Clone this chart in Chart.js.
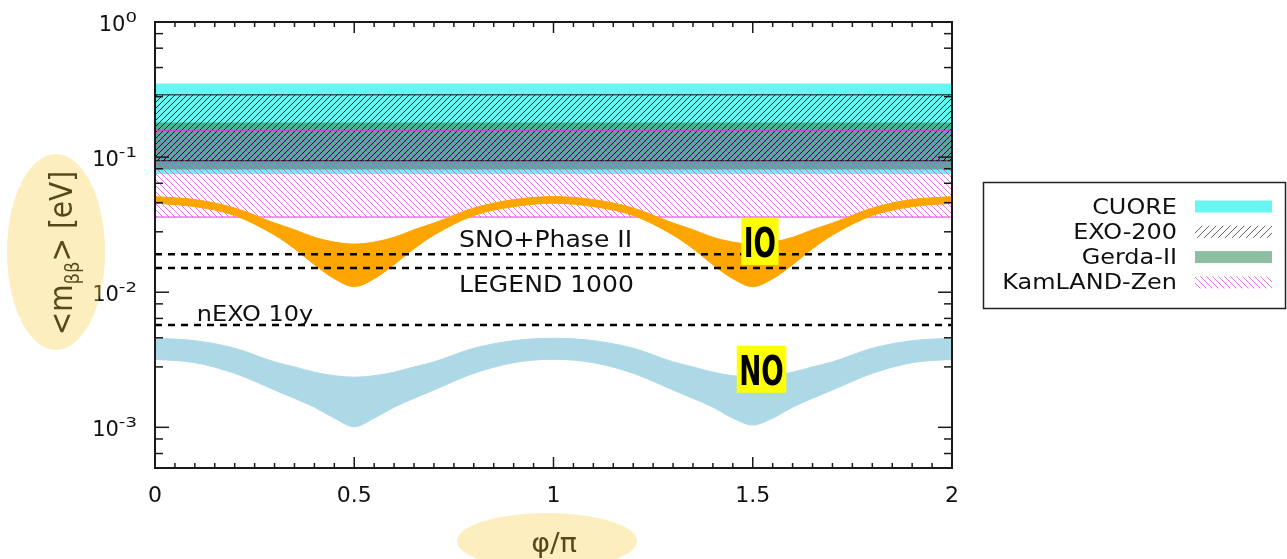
<!DOCTYPE html>
<html>
<head>
<meta charset="utf-8">
<script src="https://cdn.jsdelivr.net/npm/chart.js@4.4.0/dist/chart.umd.min.js"></script>
<style>
  html, body { margin: 0; padding: 0; background: #fff; }
</style>
</head>
<body>
<canvas id="mbb" width="1287" height="559"></canvas>
<script>
// phase grid (phi / pi) and the two allowed bands
const phi = [0,0.1,0.2,0.3,0.35,0.4,0.45,0.5,0.55,0.6,0.65,0.7,0.8,0.9,1,1.1,1.2,1.3,1.35,1.4,1.45,1.5,1.55,1.6,1.65,1.7,1.8,1.9,2];
const ioTop = [0.051,0.0485,0.042,0.0325,0.029,0.0255,0.0235,0.0227,0.0235,0.0255,0.029,0.0325,0.042,0.0485,0.051,0.0485,0.042,0.0325,0.029,0.0255,0.0235,0.0227,0.0235,0.0255,0.029,0.0325,0.042,0.0485,0.051];
const ioBottom = [0.0456,0.043,0.037,0.0265,0.021,0.016,0.0126,0.011,0.0126,0.016,0.021,0.0265,0.037,0.043,0.0456,0.043,0.037,0.0265,0.021,0.016,0.0126,0.011,0.0126,0.016,0.021,0.0265,0.037,0.043,0.0456];
const noTop = [0.00456,0.00438,0.00385,0.00305,0.0028,0.00256,0.00241,0.00235,0.00241,0.00256,0.0028,0.00305,0.00385,0.00438,0.00456,0.00438,0.00385,0.00305,0.0028,0.00256,0.00241,0.00235,0.00241,0.00256,0.0028,0.00305,0.00385,0.00438,0.00456];
const noBottom = [0.00319,0.00301,0.00251,0.00189,0.00164,0.00141,0.00117,0.00101,0.00117,0.00141,0.00164,0.00189,0.00251,0.00301,0.00319,0.00301,0.00251,0.00189,0.00164,0.00141,0.00117,0.00104,0.00117,0.00141,0.00164,0.00189,0.00251,0.00301,0.00319];

// current experimental limits (eV)
const bandNames = ['CUORE', 'EXO-200', 'Gerda-II', 'KamLAND-Zen'];
const bandUpper = [0.35, 0.289, 0.18, 0.157];
const bandLower = [0.075, 0.094, 0.081, 0.036];

// future sensitivities (eV)
const futureNames = ['SNO+Phase II', 'LEGEND 1000', 'nEXO 10y'];
const futureLimits = [0.0191, 0.0151, 0.00573];

const hierarchyNames = ['IO', 'NO'];

const xTickValues = [0, 0.5, 1, 1.5, 2];
const xTickLabels = ['0', '0.5', '1', '1.5', '2'];
const yTickValues = [1, 0.1, 0.01, 0.001];
const yTickExponents = ['0', '-1', '-2', '-3'];
const yMinorTicks = [6.4e-4, 8.2e-4, 2.8e-3, 4.6e-3, 6.4e-3, 8.2e-3, 0.028, 0.046, 0.064, 0.082, 0.28, 0.46, 0.64, 0.82];

const FONT = "'DejaVu Sans', sans-serif";

function hatch(color, dir, size) {
  const c = document.createElement('canvas');
  c.width = c.height = size;
  const g = c.getContext('2d');
  g.strokeStyle = color;
  g.lineWidth = 1;
  g.beginPath();
  if (dir === '/') {
    g.moveTo(0, size); g.lineTo(size, 0);
    g.moveTo(-1, 1); g.lineTo(1, -1);
    g.moveTo(size - 1, size + 1); g.lineTo(size + 1, size - 1);
  } else {
    g.moveTo(0, 0); g.lineTo(size, size);
    g.moveTo(-1, size - 1); g.lineTo(1, size + 1);
    g.moveTo(size - 1, -1); g.lineTo(size + 1, 1);
  }
  g.stroke();
  return g.createPattern(c, 'repeat');
}

const bandStyle = {
  'CUORE':       { fill: 'rgba(0,240,236,0.6)', key: 'rgba(0,240,236,0.6)', line: 'transparent', order: 20 },
  'EXO-200':     { fill: hatch('rgba(0,0,0,0.85)', '/', 6), key: hatch('rgba(60,60,60,0.8)', '/', 7), line: '#111', order: 16 },
  'Gerda-II':    { fill: 'rgba(46,139,87,0.6)', key: 'rgba(46,139,87,0.55)', line: 'transparent', order: 18 },
  'KamLAND-Zen': { fill: hatch('rgba(214,70,214,0.75)', '\\', 6), key: hatch('rgba(214,70,214,0.75)', '\\', 6), line: '#d83cd8', order: 14 }
};

const span = v => [{ x: 0, y: v }, { x: 2, y: v }];
const curve = ys => phi.map((p, i) => ({ x: p, y: ys[i] }));

const datasets = [];
bandNames.forEach((name, i) => {
  const st = bandStyle[name];
  datasets.push({ label: name, data: span(bandUpper[i]), fill: '+1', backgroundColor: st.fill, borderColor: st.line, borderWidth: 1, order: st.order });
  datasets.push({ label: name + ' low', data: span(bandLower[i]), fill: false, borderColor: st.line, borderWidth: 1, order: st.order });
});
const smooth = { cubicInterpolationMode: 'monotone', borderWidth: 1 };
datasets.push(Object.assign({ label: 'IO', data: curve(ioTop), fill: '+1', backgroundColor: '#ffa500', borderColor: '#ffa500', order: 12 }, smooth));
datasets.push(Object.assign({ label: 'IO low', data: curve(ioBottom), fill: false, borderColor: '#ffa500', order: 12 }, smooth));
datasets.push(Object.assign({ label: 'NO', data: curve(noTop), fill: '+1', backgroundColor: '#add8e6', borderColor: '#add8e6', order: 12 }, smooth));
datasets.push(Object.assign({ label: 'NO low', data: curve(noBottom), fill: false, borderColor: '#add8e6', order: 12 }, smooth));
futureNames.forEach((name, i) => {
  datasets.push({ label: name, data: span(futureLimits[i]), fill: false, borderColor: '#000', borderWidth: 2.5, borderDash: [7, 6], order: 5 });
});

// where the text notes sit, in data coordinates
const futureNoteAt = [{ x: 0.763, y: 0.0216 }, { x: 0.763, y: 0.0101 }, { x: 0.105, y: 0.00616 }];
const hierarchyAt = [{ x: 1.518, y: 0.0237 }, { x: 1.522, y: 0.00269 }];

function text(ctx, s, x, y, size, o) {
  o = Object.assign({ align: 'left', sx: 1, weight: '', color: '#000' }, o);
  ctx.save();
  ctx.font = `${o.weight} ${size}px ${FONT}`;
  ctx.fillStyle = o.color;
  ctx.textBaseline = 'alphabetic';
  ctx.textAlign = 'left';
  const w = ctx.measureText(s).width * o.sx;
  let left = x;
  if (o.align === 'right') left = x - w;
  else if (o.align === 'center') left = x - w / 2;
  ctx.translate(left, y);
  ctx.scale(o.sx, 1);
  ctx.fillText(s, 0, 0);
  ctx.restore();
  return w;
}

function seg(ctx, x1, y1, x2, y2) {
  ctx.beginPath(); ctx.moveTo(x1, y1); ctx.lineTo(x2, y2); ctx.stroke();
}

const decor = {
  id: 'decor',
  afterDraw(chart) {
    const { ctx, chartArea: a, scales: { x, y } } = chart;

    // notes next to the dashed lines
    futureNames.forEach((name, i) => {
      const p = futureNoteAt[i];
      text(ctx, name, x.getPixelForValue(p.x), y.getPixelForValue(p.y), i === 2 ? 22 : 23, { sx: 1.09, color: '#111' });
    });

    // IO / NO tags
    hierarchyNames.forEach((name, i) => {
      const cx = x.getPixelForValue(hierarchyAt[i].x), cy = y.getPixelForValue(hierarchyAt[i].y);
      ctx.font = `bold 40px ${FONT}`;
      const w = ctx.measureText(name).width * 0.66 + 5;
      ctx.fillStyle = '#ffff00';
      ctx.fillRect(cx - w / 2, cy - 23.5, w, 47);
      text(ctx, name, cx, cy + 15.5, 40, { align: 'center', sx: 0.66, weight: 'bold' });
    });

    // decade labels on the log axis
    yTickValues.forEach((v, i) => {
      const py = y.getPixelForValue(v);
      const ws = text(ctx, yTickExponents[i], 137, py - 0.5, 14, { align: 'right', sx: 1.3, color: '#111' });
      text(ctx, '10', 137 - ws, py + 9, 21, { align: 'right', sx: 1.0, color: '#111' });
    });

    // frame and inward ticks
    ctx.save();
    ctx.strokeStyle = '#1a1a1a';
    ctx.lineWidth = 1.5;
    yTickValues.forEach(v => {
      const py = y.getPixelForValue(v);
      seg(ctx, a.left, py, a.left + 14, py);
      seg(ctx, a.right, py, a.right - 14, py);
    });
    yMinorTicks.forEach(v => {
      const py = y.getPixelForValue(v);
      seg(ctx, a.left, py, a.left + 8, py);
      seg(ctx, a.right, py, a.right - 8, py);
    });
    for (let k = 1; k < 40; k++) {
      const v = k * 0.05;
      const len = k % 10 === 0 ? 11 : 5;
      const px = x.getPixelForValue(v);
      seg(ctx, px, a.bottom, px, a.bottom - len);
      seg(ctx, px, a.top, px, a.top + len);
    }
    ctx.lineWidth = 2;
    ctx.strokeRect(a.left, a.top, a.right - a.left, a.bottom - a.top);
    ctx.restore();

    // key
    ctx.save();
    ctx.strokeStyle = '#222';
    ctx.lineWidth = 1.5;
    ctx.strokeRect(983.5, 182.5, 302, 126);
    bandNames.forEach((name, i) => {
      const base = 213.5 + i * 25.3;
      text(ctx, name, 1177, base, 21, { align: 'right', sx: 1.14, color: '#111' });
      ctx.fillStyle = bandStyle[name].key;
      ctx.fillRect(1195, base - 13, 77, 12);
    });
    ctx.restore();

    // axis titles, then the translucent highlight on top of them
    ctx.save();
    ctx.translate(72, 253);
    ctx.rotate(-Math.PI / 2);
    ctx.scale(1, 1.12);
    ctx.fillStyle = '#000';
    ctx.textBaseline = 'alphabetic';
    ctx.font = `28px ${FONT}`;
    const w1 = ctx.measureText('<m').width, w3 = ctx.measureText('> [eV]').width;
    ctx.font = `18px ${FONT}`;
    const w2 = ctx.measureText('\u03B2\u03B2').width;
    let tx = -(w1 + w2 + w3) / 2;
    ctx.font = `28px ${FONT}`; ctx.fillText('<m', tx, 0); tx += w1;
    ctx.font = `18px ${FONT}`; ctx.fillText('\u03B2\u03B2', tx, 6); tx += w2;
    ctx.font = `28px ${FONT}`; ctx.fillText('> [eV]', tx, 0);
    ctx.restore();

    text(ctx, '\u03C6/\u03C0', 554, 552, 26, { align: 'center', sx: 1.1 });

    ctx.save();
    ctx.fillStyle = 'rgba(246,206,69,0.35)';
    ctx.beginPath(); ctx.ellipse(56, 252, 49, 98, 0, 0, Math.PI * 2); ctx.fill();
    ctx.beginPath(); ctx.ellipse(547, 541, 90, 28, 0, 0, Math.PI * 2); ctx.fill();
    ctx.restore();
  }
};

new Chart(document.getElementById('mbb'), {
  type: 'line',
  data: { datasets },
  options: {
    responsive: false,
    animation: false,
    devicePixelRatio: 1,
    layout: { padding: { top: 22, right: 335, left: 0, bottom: 0 } },
    elements: { point: { radius: 0 } },
    plugins: { legend: { display: false }, tooltip: { enabled: false } },
    scales: {
      x: {
        type: 'linear', min: 0, max: 2,
        afterBuildTicks: s => { s.ticks = xTickValues.map(v => ({ value: v })); },
        afterFit: s => { s.height = 91; },
        grid: { display: false, drawTicks: false },
        border: { display: false },
        ticks: { autoSkip: false, maxRotation: 0, padding: 15, color: '#111', font: { family: FONT, size: 22 }, callback: (v, i) => xTickLabels[i] }
      },
      y: {
        type: 'logarithmic', min: 5e-4, max: 1,
        afterBuildTicks: s => { s.ticks = yTickValues.map(v => ({ value: v })); },
        afterFit: s => { s.width = 155; },
        grid: { display: false, drawTicks: false },
        border: { display: false },
        ticks: { display: false }
      }
    }
  },
  plugins: [decor]
});
</script>
</body>
</html>
